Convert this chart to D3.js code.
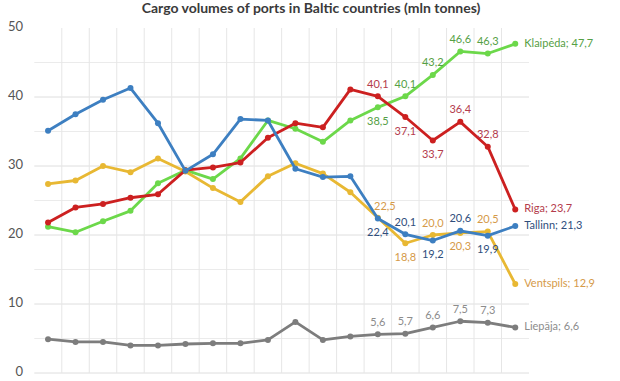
<!DOCTYPE html>
<html>
<head>
<meta charset="utf-8">
<script src="https://cdn.jsdelivr.net/npm/d3@7"></script>
<style>
  html, body { margin: 0; padding: 0; background: #fff; }
  svg { display: block; font-family: Lato, "Open Sans", sans-serif; }
</style>
</head>
<body>
<svg id="chart" width="620" height="381"></svg>
<script>
const title = "Cargo volumes of ports in Baltic countries (mln tonnes)";
const years = ["2003","2004","2005","2006","2007","2008","2009","2010","2011","2012","2013","2014","2015","2016","2017","2018","2019","2020"];
const yTicks = [0, 10, 20, 30, 40, 50];
const gridValues = [0, 5, 10, 15, 20, 25, 30, 35, 40, 45];

const klaipeda  = [21.2, 20.4, 22.0, 23.5, 27.5, 29.4, 28.1, 31.1, 36.6, 35.4, 33.5, 36.6, 38.5, 40.1, 43.2, 46.6, 46.3, 47.7];
const riga      = [21.8, 24.0, 24.5, 25.4, 25.9, 29.4, 29.8, 30.5, 34.1, 36.2, 35.6, 41.1, 40.1, 37.1, 33.7, 36.4, 32.8, 23.7];
const tallinn   = [35.1, 37.5, 39.6, 41.3, 36.2, 29.3, 31.7, 36.8, 36.6, 29.6, 28.4, 28.5, 22.4, 20.1, 19.2, 20.6, 19.9, 21.3];
const ventspils = [27.4, 27.9, 30.0, 29.1, 31.1, 29.2, 26.8, 24.8, 28.5, 30.4, 28.9, 26.2, 22.5, 18.8, 20.0, 20.3, 20.5, 12.9];
const liepaja   = [4.9, 4.5, 4.5, 4.0, 4.0, 4.2, 4.3, 4.3, 4.8, 7.4, 4.8, 5.3, 5.6, 5.7, 6.6, 7.5, 7.3, 6.6];

// which points carry a value label, and on which side
const klaipedaLabels  = [[12, "below"], [13, "above"], [14, "above"], [15, "above"], [16, "above"]];
const rigaLabels      = [[12, "above"], [13, "below"], [14, "below"], [15, "above"], [16, "above"]];
const tallinnLabels   = [[12, "below"], [13, "above"], [14, "below"], [15, "above"], [16, "below"]];
const ventspilsLabels = [[12, "aboveright"], [13, "below"], [14, "above"], [15, "below"], [16, "above"]];
const liepajaLabels   = [[12, "above"], [13, "above"], [14, "above"], [15, "above"], [16, "above"]];

const series = [
  { name: "Liepāja",   values: liepaja,   labels: liepajaLabels,   line: "#7d7d7d", text: "#8c8c8c" },
  { name: "Klaipėda",  values: klaipeda,  labels: klaipedaLabels,  line: "#6cd84a", text: "#55a045" },
  { name: "Ventspils", values: ventspils, labels: ventspilsLabels, line: "#e8b833", text: "#d59a48" },
  { name: "Riga",      values: riga,      labels: rigaLabels,      line: "#cc2020", text: "#b43c4c" },
  { name: "Tallinn",   values: tallinn,   labels: tallinnLabels,   line: "#3d7fc1", text: "#2f4e7c" }
];

const svg = d3.select("#chart");
const x = d3.scaleBand().domain(years).range([34.3, 529]).padding(0);
const y = d3.scaleLinear().domain([0, 50]).range([373, 28]);
const cx = d => x(d) + x.bandwidth() / 2;
const fmt = v => d3.format(".1f")(v).replace(".", ",");

// grid
const grid = svg.append("g");
grid.selectAll("line.h").data(gridValues).join("line")
  .attr("x1", x.range()[0]).attr("x2", x.range()[1])
  .attr("y1", d => y(d)).attr("y2", d => y(d))
  .attr("stroke", d => d % 10 === 0 ? "#dedede" : "#ebebeb").attr("stroke-width", 1);
grid.selectAll("line.v").data(years.slice(1)).join("line")
  .attr("x1", d => x(d)).attr("x2", d => x(d))
  .attr("y1", y(50)).attr("y2", y(0))
  .attr("stroke", "#e6e6e6").attr("stroke-width", 1);

// y axis labels
svg.append("g").selectAll("text").data(yTicks).join("text")
  .attr("x", 23).attr("y", d => y(d))
  .attr("text-anchor", "end").attr("dominant-baseline", "middle")
  .attr("font-size", 13).attr("fill", "#555")
  .text(d => d);

// title
svg.append("text").attr("x", 311).attr("y", 13)
  .attr("text-anchor", "middle").attr("font-size", 14).attr("font-weight", "bold")
  .attr("fill", "#3a3a3a").text(title);

const line = d3.line().x((d, i) => cx(years[i])).y(d => y(d));

series.forEach(s => {
  const g = svg.append("g");
  g.append("path").datum(s.values).attr("d", line)
    .attr("fill", "none").attr("stroke", s.line).attr("stroke-width", 2.8)
    .attr("stroke-linejoin", "round");
  g.selectAll("circle").data(s.values).join("circle")
    .attr("cx", (d, i) => cx(years[i])).attr("cy", d => y(d))
    .attr("r", 3).attr("fill", s.line);
});

series.forEach(s => {
  const g = svg.append("g").attr("font-size", 11).attr("fill", s.text);
  s.labels.forEach(([i, pos]) => {
    const v = s.values[i];
    let dx = 0, dy = -8.5;
    if (pos === "below") dy = 17.5;
    if (pos === "aboveright") { dx = 7; dy = -8; }
    g.append("text").attr("x", cx(years[i]) + dx).attr("y", y(v) + dy)
      .attr("text-anchor", "middle").text(fmt(v));
  });
  const last = s.values.length - 1;
  g.append("text").attr("x", cx(years[last]) + 9).attr("y", y(s.values[last]))
    .attr("dominant-baseline", "middle")
    .text(s.name + "; " + fmt(s.values[last]));
});
</script>
</body>
</html>
